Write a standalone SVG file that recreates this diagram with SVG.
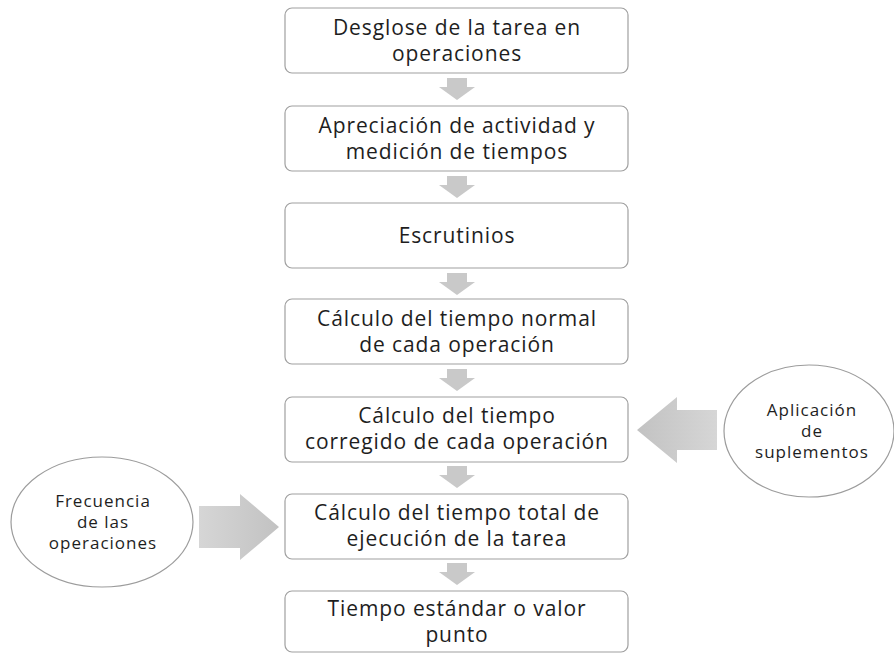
<svg xmlns="http://www.w3.org/2000/svg" width="894" height="654" viewBox="0 0 894 654">
  <defs>
    <style>
      .box{fill:#fff;stroke:#a0a0a0;stroke-width:1.2}
      .ell{fill:#fff;stroke:#9c9c9c;stroke-width:1.2}
      .t{font-family:"Open Sans","Noto Sans","Liberation Sans",sans-serif;font-size:21px;letter-spacing:0.9px;fill:#1e1e1e;text-anchor:middle}
      .s{font-family:"Open Sans","Noto Sans","Liberation Sans",sans-serif;font-size:17px;letter-spacing:1px;fill:#1e1e1e;text-anchor:middle}
      .arr{fill:#c9c9c9}
    </style>
    <path id="down" d="M447,0 H467 V9 H475 L457,22 L439,9 H447 Z"/>
    <linearGradient id="gl" x1="0" y1="0" x2="1" y2="0">
      <stop offset="0" stop-color="#c2c2c2"/>
      <stop offset="1" stop-color="#d6d6d6"/>
    </linearGradient>
    <linearGradient id="gr" x1="0" y1="0" x2="1" y2="0">
      <stop offset="0" stop-color="#d6d6d6"/>
      <stop offset="1" stop-color="#c2c2c2"/>
    </linearGradient>
  </defs>
  <rect width="894" height="654" fill="#fff"/>

  <g id="connectors">
    <use href="#down" class="arr" y="78"/>
    <use href="#down" class="arr" y="176"/>
    <use href="#down" class="arr" y="273"/>
    <use href="#down" class="arr" y="369"/>
    <use href="#down" class="arr" y="466"/>
    <use href="#down" class="arr" y="563"/>
    <path d="M717,410 H677 V397 L637,430 L677,463 V450 H717 Z" fill="url(#gl)"/>
    <path d="M199,506 H240 V494 L279,527 L240,560 V548 H199 Z" fill="url(#gr)"/>
  </g>

  <g id="n1">
    <rect class="box" x="285" y="8" width="343" height="65" rx="7"/>
    <text class="t" x="457" y="35">Desglose de la tarea en<tspan x="457" dy="26">operaciones</tspan></text>
  </g>
  <g id="n2">
    <rect class="box" x="285" y="106" width="343" height="65" rx="7"/>
    <text class="t" x="457" y="133">Apreciación de actividad y<tspan x="457" dy="26">medición de tiempos</tspan></text>
  </g>
  <g id="n3">
    <rect class="box" x="285" y="203" width="343" height="65" rx="7"/>
    <text class="t" x="457" y="243">Escrutinios</text>
  </g>
  <g id="n4">
    <rect class="box" x="285" y="299" width="343" height="65" rx="7"/>
    <text class="t" x="457" y="326">Cálculo del tiempo normal<tspan x="457" dy="26">de cada operación</tspan></text>
  </g>
  <g id="n5">
    <rect class="box" x="285" y="397" width="343" height="65" rx="7"/>
    <text class="t" x="457" y="423">Cálculo del tiempo<tspan x="457" dy="26">corregido de cada operación</tspan></text>
  </g>
  <g id="n6">
    <rect class="box" x="285" y="494" width="343" height="65" rx="7"/>
    <text class="t" x="457" y="520">Cálculo del tiempo total de<tspan x="457" dy="26">ejecución de la tarea</tspan></text>
  </g>
  <g id="n7">
    <rect class="box" x="285" y="591" width="343" height="61" rx="7"/>
    <text class="t" x="457" y="616">Tiempo estándar o valor<tspan x="457" dy="26">punto</tspan></text>
  </g>
  <g id="c1">
    <ellipse class="ell" cx="809" cy="431" rx="85" ry="66"/>
    <text class="s" x="812" y="416">Aplicación<tspan x="812" dy="21">de</tspan><tspan x="812" dy="21">suplementos</tspan></text>
  </g>
  <g id="c2">
    <ellipse class="ell" cx="102" cy="522" rx="91" ry="65"/>
    <text class="s" x="103" y="507">Frecuencia<tspan x="103" dy="21">de las</tspan><tspan x="103" dy="21">operaciones</tspan></text>
  </g>
</svg>
